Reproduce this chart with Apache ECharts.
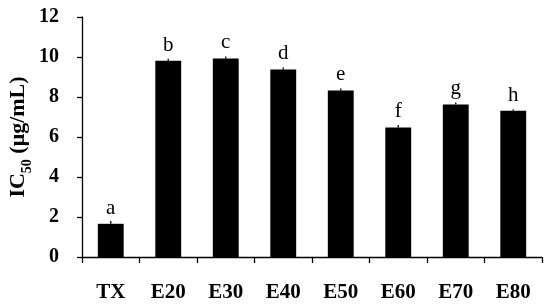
<!DOCTYPE html>
<html>
<head>
<meta charset="utf-8">
<script src="https://cdn.jsdelivr.net/npm/echarts@6/dist/echarts.min.js"></script>
<style>html,body{margin:0;padding:0;background:#fff}#c{width:550px;height:305px}</style>
</head>
<body>
<div id="c"></div>
<script>
const categories = ['TX', 'E20', 'E30', 'E40', 'E50', 'E60', 'E70', 'E80'];
const ic50 = [1.66, 9.81, 9.93, 9.38, 8.33, 6.48, 7.63, 7.31];
const errors = [0.14, 0.1, 0.1, 0.1, 0.1, 0.12, 0.1, 0.08];
const letters = ['a', 'b', 'c', 'd', 'e', 'f', 'g', 'h'];
const yTicks = [0, 2, 4, 6, 8, 10, 12];

const FONT = '"Liberation Serif", "Times New Roman", serif';
const chart = echarts.init(document.getElementById('c'));
chart.setOption({
  animation: false,
  backgroundColor: '#fff',
  grid: { left: 82, right: 8, top: 17, bottom: 48, containLabel: false, outerBoundsMode: 'none' },
  xAxis: {
    type: 'category',
    data: categories,
    axisLine: { lineStyle: { color: '#000', width: 1.3 } },
    axisTick: { show: true, length: 6, lineStyle: { color: '#000', width: 1.3 } },
    axisLabel: { color: '#000', fontFamily: FONT, fontWeight: 'bold', fontSize: 21, margin: 25 }
  },
  yAxis: {
    type: 'value',
    min: yTicks[0],
    max: yTicks[yTicks.length - 1],
    interval: 2,
    splitLine: { show: false },
    axisLine: { show: true, lineStyle: { color: '#000', width: 1.3 } },
    axisTick: { show: true, length: 5, lineStyle: { color: '#000', width: 1.3 } },
    axisLabel: { color: '#000', fontFamily: FONT, fontWeight: 'bold', fontSize: 20, margin: 23 },
    name: '{b|IC}{s|50}{b| (μg/mL)}',
    nameLocation: 'middle',
    nameGap: 50,
    nameMoveOverlap: false,
    nameRotate: 90,
    nameTextStyle: {
      rich: {
        b: { fontFamily: FONT, fontWeight: 'bold', fontSize: 22, color: '#000', lineHeight: 28 },
        s: { fontFamily: FONT, fontWeight: 'bold', fontSize: 14, color: '#000', lineHeight: 28, verticalAlign: 'bottom', padding: [0, 0, -2, 0] }
      }
    }
  },
  series: [
    {
      type: 'bar',
      data: ic50,
      barWidth: '45%',
      itemStyle: { color: '#000' },
      label: {
        show: true,
        position: 'top',
        distance: 5,
        formatter: p => letters[p.dataIndex],
        color: '#000',
        fontFamily: FONT,
        fontSize: 21
      }
    },
    {
      type: 'custom',
      data: ic50.map((v, i) => [i, v, v + errors[i]]),
      renderItem: function (params, api) {
        const lo = api.coord([api.value(0), api.value(1)]);
        const hi = api.coord([api.value(0), api.value(2)]);
        return {
          type: 'line',
          shape: { x1: lo[0], y1: lo[1], x2: hi[0], y2: hi[1] },
          style: { stroke: '#000', lineWidth: 1.3 }
        };
      },
      z: 3
    }
  ]
});
</script>
</body>
</html>
